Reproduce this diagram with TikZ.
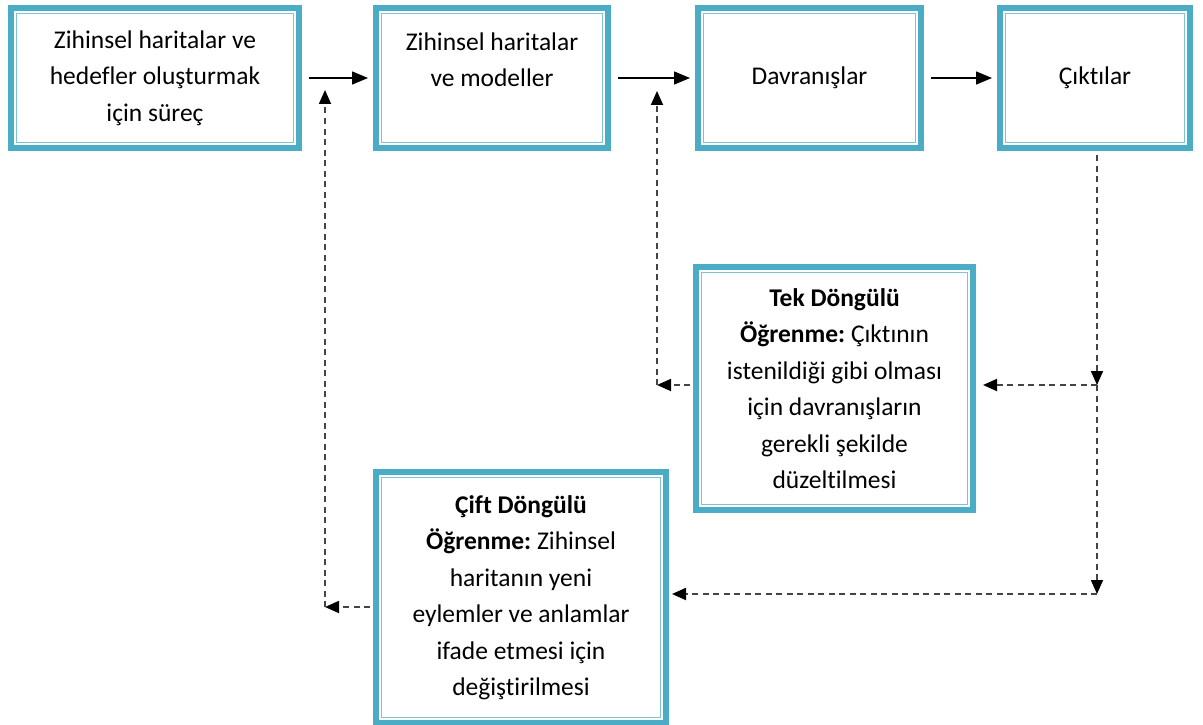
\documentclass[tikz,border=0pt]{standalone}
\usepackage{fontspec}
\setmainfont{Carlito}[Ligatures=NoCommon]
\usepackage{tikz}
\usetikzlibrary{arrows.meta}
\frenchspacing

\definecolor{boxteal}{HTML}{4BACC6}
\definecolor{boxlight}{HTML}{7CC3D6}
\definecolor{dashgray}{HTML}{444444}

\begin{document}
\begin{tikzpicture}[x=1pt,y=-1pt,
		box_style/.style={rectangle,preaction={draw=boxteal,line width=17pt},
			preaction={draw=white,fill=white,line width=5pt},
			draw=boxlight,line width=1.6pt,inner sep=0pt,outer sep=8.5pt,align=center,
			font=\fontsize{25.5}{36.5}\selectfont},
		arrow_style/.style={draw=black,line width=1.5pt,-{Triangle[length=16pt,width=13pt]},
			shorten <=7pt,shorten >=5pt},
		dash_style/.style={draw=dashgray,line width=1.8pt,dash pattern=on 6pt off 4.5pt,
			-{Triangle[length=14pt,width=12pt,color=black]}}]

		\useasboundingbox (0,0) rectangle (1203,725);

		\node[box_style,minimum width=277pt,minimum height=129pt] (surec) at (155,78)
			{Zihinsel haritalar ve\\hedefler oluşturmak\\için süreç};
		\node[box_style,minimum width=221pt,minimum height=129pt] (modeller) at (492,78)
			{Zihinsel haritalar\\ve modeller\\\mbox{}};
		\node[box_style,minimum width=212pt,minimum height=129pt] (davranis) at (809.5,78)
			{Davranışlar};
		\node[box_style,minimum width=179pt,minimum height=129pt] (ciktilar) at (1095,78)
			{Çıktılar};
		\node[box_style,minimum width=266pt,minimum height=232pt] (tek) at (834.5,388.5)
			{\textbf{Tek Döngülü}\\\textbf{Öğrenme:} Çıktının\\istenildiği gibi olması\\için davranışların\\gerekli şekilde\\düzeltilmesi};
		\node[box_style,minimum width=279pt,minimum height=240pt] (cift) at (521,597.5)
			{\textbf{Çift Döngülü}\\\textbf{Öğrenme:} Zihinsel\\haritanın yeni\\eylemler ve anlamlar\\ifade etmesi için\\değiştirilmesi};

		\coordinate (r1) at (1097,385);
		\coordinate (r2) at (1097,594);
		\coordinate (l1) at (657,385);
		\coordinate (l1top) at (657,91);
		\coordinate (l2) at (325,607);
		\coordinate (l2top) at (325,90);

		\draw[arrow_style] (surec) -- (modeller);
		\draw[arrow_style] (modeller) -- (davranis);
		\draw[arrow_style] (davranis) -- (ciktilar);

		\draw[dash_style,shorten <=4pt] (r1 |- ciktilar.south) -- (r1);
		\draw[dash_style,shorten >=7pt] (r1) -- (r1 -| tek.east);
		\draw[dash_style] (r1) -- (r2);
		\draw[dash_style,shorten >=3pt] (r2) -- (r2 -| cift.east);
		\draw[dash_style,shorten <=3pt] (l1 -| tek.west) -- (l1);
		\draw[dash_style] (l1) -- (l1top);
		\draw[dash_style,shorten <=3pt] (l2 -| cift.west) -- (l2);
		\draw[dash_style] (l2) -- (l2top);

\end{tikzpicture}
\end{document}
